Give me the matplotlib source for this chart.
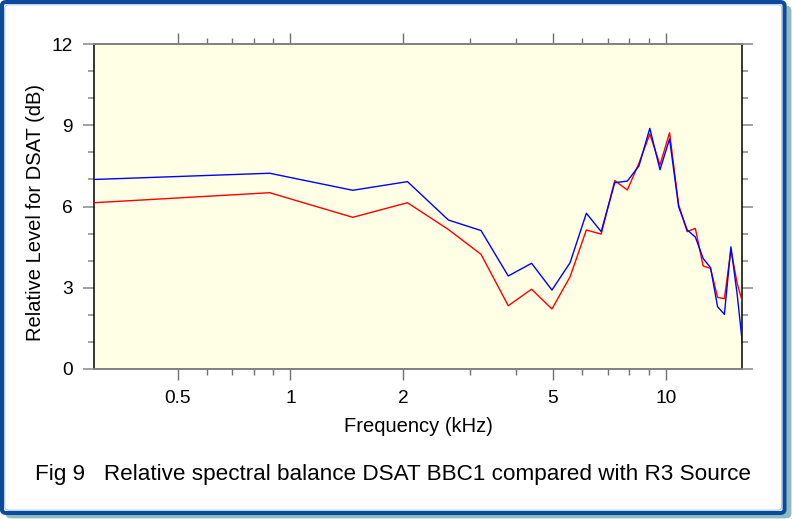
import numpy as np
import matplotlib
matplotlib.use("Agg")
import matplotlib.pyplot as plt
from matplotlib.patches import FancyBboxPatch
from matplotlib.ticker import FixedLocator, NullFormatter, FixedFormatter

plt.rcParams["font.family"] = ["Liberation Sans", "DejaVu Sans"]

# third-octave-ish band centres (kHz)
freq_khz = [0.3, 0.88, 1.465, 2.05, 2.635, 3.22, 3.805, 4.39, 4.975, 5.56,
            6.145, 6.73, 7.315, 7.9, 8.485, 9.07, 9.655, 10.24, 10.825, 11.41,
            11.995, 12.58, 13.165, 13.75, 14.335, 14.92, 15.505, 16.0]
dsat_r3 = [7.0, 7.23, 6.60, 6.92, 5.50, 5.11, 3.43, 3.90, 2.91, 3.92,
           5.75, 5.07, 6.88, 6.94, 7.50, 8.89, 7.36, 8.50, 5.99, 5.13,
           4.87, 4.08, 3.74, 2.29, 2.01, 4.51, 2.75, 0.97]
dsat_bbc1 = [6.14, 6.51, 5.60, 6.14, 5.15, 4.23, 2.33, 2.94, 2.21, 3.40,
             5.13, 4.98, 6.96, 6.61, 7.60, 8.68, 7.54, 8.73, 6.06, 5.07,
             5.19, 3.80, 3.71, 2.64, 2.59, 4.40, 3.16, 2.48]

x_major = [0.5, 1, 2, 5, 10]
x_major_lbl = ["0.5", "1", "2", "5", "10"]
x_minor = [0.6, 0.7, 0.8, 0.9, 3, 4, 6, 7, 8, 9]
y_major = [0, 3, 6, 9, 12]
y_minor = [1, 2, 4, 5, 7, 8, 10, 11]

W, H = 792, 519
fig = plt.figure(figsize=(W / 100, H / 100), dpi=100)
fig.patch.set_facecolor("white")

# ── frame: teal drop shadow, blue rounded border, light inner line ──────────
def px_box(x0, y0, x1, y1, **kw):
    # box given in pixel coords from the top-left corner
    return FancyBboxPatch((x0 / W, 1 - y1 / H), (x1 - x0) / W, (y1 - y0) / H,
                          boxstyle="round,pad=0,rounding_size=0.006",
                          transform=fig.transFigure, **kw)

fig.patches.append(px_box(7, 7, 790, 517, fc="#8fbcbc", ec="#8fbcbc", lw=2, zorder=0))
fig.patches.append(px_box(2, 2, 784.5, 513, fc="white", ec="#0d4a9e", lw=2.9, zorder=1))
fig.patches.append(px_box(4.8, 4.8, 781.7, 510.2, fc="none", ec="#a8c8ec", lw=0.8, zorder=2))

ax = fig.add_axes([94.3 / W, 1 - 368.7 / H, 648 / W, 324.4 / H], zorder=3)
ax.set_facecolor("#ffffe6")

ax.plot(freq_khz, dsat_bbc1, color="#ff0000", lw=1.0, zorder=3)
ax.plot(freq_khz, dsat_r3, color="#0000ff", lw=1.0, zorder=4)

ax.set_xscale("log")
ax.set_xlim(0.3, 16)
ax.set_ylim(0, 12)

ax.xaxis.set_major_locator(FixedLocator(x_major))
ax.xaxis.set_major_formatter(FixedFormatter(x_major_lbl))
ax.xaxis.set_minor_locator(FixedLocator(x_minor))
ax.xaxis.set_minor_formatter(NullFormatter())
ax.yaxis.set_major_locator(FixedLocator(y_major))
ax.yaxis.set_minor_locator(FixedLocator(y_minor))

ax.tick_params(axis="x", which="both", direction="out", top=True, bottom=True,
               color="#707070", width=1.0, labelsize=13.8, pad=7.5)
ax.tick_params(axis="x", which="major", length=8)
ax.tick_params(axis="x", which="minor", length=4)
ax.tick_params(axis="y", which="both", direction="out", left=True, right=True,
               color="#a0a0a0", width=1.4, labelsize=13.8, pad=7.5)
ax.tick_params(axis="y", which="major", length=8)
ax.tick_params(axis="y", which="minor", length=4.2)

for side in ("left", "right"):
    ax.spines[side].set_color("black")
    ax.spines[side].set_linewidth(1.1)
for side in ("top", "bottom"):
    ax.spines[side].set_color("#808080")
    ax.spines[side].set_linewidth(1.4)

ax.set_xlabel("Frequency (kHz)", fontsize=14.5, labelpad=7)
ax.set_ylabel("Relative Level for DSAT (dB)", fontsize=14.5, va="center")
ax.yaxis.set_label_coords(-0.09, 0.48)

fig.text(0.4956, 1 - 480 / H,
         "Fig 9   Relative spectral balance DSAT BBC1 compared with R3 Source",
         ha="center", va="baseline", fontsize=16.2, zorder=4)

fig.savefig("out.png", dpi=100)
